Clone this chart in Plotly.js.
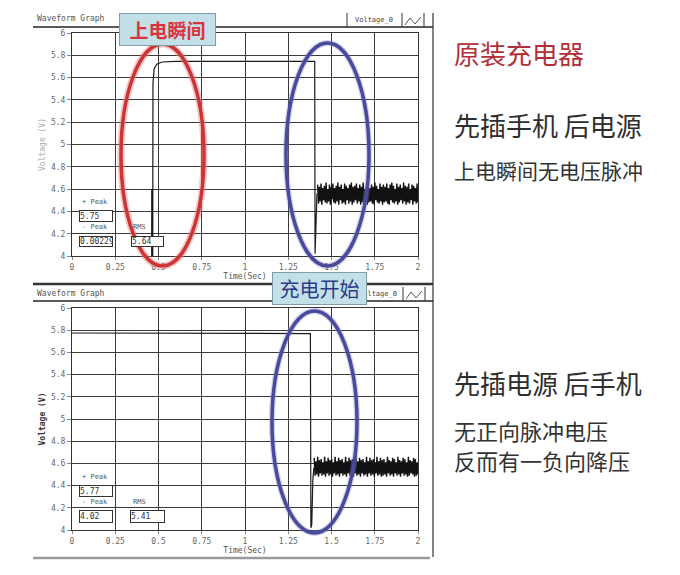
<!DOCTYPE html>
<html>
<head>
<meta charset="utf-8">
<script src="https://cdn.plot.ly/plotly-3.0.1.min.js"></script>
<style>html,body{margin:0;padding:0;background:#fff;}#chart{width:680px;height:575px;}</style>
</head>
<body>
<div id="chart"></div>
<script>
// ---- data ----
const xTickLabels = ["0","0.25","0.5","0.75","1","1.25","1.5","1.75","2"];
const yTickLabels = ["4","4.2","4.4","4.6","4.8","5","5.2","5.4","5.6","5.8","6"];

// Top graph: plug phone first, then power (time in s, voltage in V)
const topTime    = [0, 0.458, 0.461, 0.464, 0.468, 0.475, 0.49, 0.52, 0.6, 1.403, 1.405, 1.41, 1.416];
const topVoltage = [0, 0,     4.6,   1.0,   5.55,  5.68,  5.72, 5.74, 5.745, 5.745, 4.02, 4.3, 4.56];
const topNoiseStart = 1.42;
const topNoiseStep  = 0.00487;
const topNoise = [
 4.64,4.47,4.62,4.49,4.65,4.46,4.61,4.50,4.63,4.48,
 4.66,4.47,4.60,4.49,4.64,4.46,4.62,4.51,4.65,4.48,
 4.61,4.47,4.63,4.49,4.66,4.46,4.62,4.50,4.64,4.47,
 4.60,4.48,4.65,4.46,4.63,4.50,4.61,4.47,4.64,4.49,
 4.66,4.46,4.62,4.48,4.63,4.50,4.65,4.47,4.61,4.49,
 4.64,4.46,4.62,4.48,4.66,4.47,4.60,4.50,4.63,4.46,
 4.65,4.48,4.61,4.49,4.64,4.47,4.62,4.46,4.66,4.50,
 4.63,4.48,4.60,4.47,4.65,4.49,4.62,4.46,4.64,4.48,
 4.62,4.49,4.65,4.47,4.61,4.46,4.64,4.50,4.66,4.48,
 4.63,4.47,4.60,4.49,4.65,4.46,4.62,4.48,4.64,4.50,
 4.61,4.47,4.66,4.49,4.63,4.46,4.62,4.48,4.65,4.47,
 4.60,4.50,4.64,4.46,4.63,4.49,4.61,4.47,4.65,4.48];
const topStats = {plusPeak:"5.75", minusPeak:"0.00229", rms:"5.64"};

// Bottom graph: plug power first, then phone
const botTime    = [0, 0.55, 1.378, 1.381, 1.386, 1.392, 1.398];
const botVoltage = [5.775, 5.775, 5.77, 4.02, 4.05, 4.45, 4.56];
const botNoiseStart = 1.40;
const botNoiseStep  = 0.00504;
const botNoise = [
 4.65,4.49,4.62,4.50,4.66,4.48,4.63,4.51,4.64,4.49,
 4.61,4.50,4.66,4.48,4.62,4.51,4.65,4.49,4.63,4.50,
 4.64,4.48,4.61,4.51,4.66,4.49,4.62,4.50,4.65,4.48,
 4.63,4.51,4.64,4.49,4.61,4.50,4.66,4.48,4.62,4.51,
 4.65,4.49,4.63,4.50,4.64,4.48,4.61,4.51,4.66,4.49,
 4.62,4.50,4.65,4.48,4.63,4.51,4.64,4.49,4.61,4.50,
 4.66,4.48,4.62,4.51,4.65,4.49,4.63,4.50,4.64,4.48,
 4.61,4.51,4.66,4.49,4.62,4.50,4.65,4.48,4.63,4.49,
 4.64,4.50,4.61,4.48,4.66,4.51,4.63,4.49,4.62,4.50,
 4.65,4.48,4.64,4.51,4.61,4.49,4.66,4.50,4.63,4.48,
 4.62,4.51,4.65,4.49,4.64,4.50,4.61,4.48,4.66,4.49,
 4.63,4.51,4.62,4.50,4.65,4.48,4.64,4.49,4.61,4.50];
const botStats = {plusPeak:"5.77", minusPeak:"4.02", rms:"5.41"};

// ---- layout helpers (pixel -> paper) ----
const W = 680, H = 575;
const X = v => v / W, Y = v => 1 - v / H;
const CJK = '"Noto Sans CJK SC", "Noto Sans", sans-serif';
const MONO = '"DejaVu Sans Mono", monospace';

function ln(x0, y0, x1, y1, color, width) {
  return {type:'line', xref:'paper', yref:'paper', x0:X(x0), y0:Y(y0), x1:X(x1), y1:Y(y1),
          line:{color:color, width:width}, layer:'above'};
}
function ell(x0, y0, x1, y1, color, width) {
  return {type:'circle', xref:'paper', yref:'paper', x0:X(x0), y0:Y(y0), x1:X(x1), y1:Y(y1),
          line:{color:color, width:width}, layer:'above'};
}
function txt(x, y, text, size, color, xanchor, family, extra) {
  return Object.assign({xref:'paper', yref:'paper', x:X(x), y:Y(y), text:text, showarrow:false,
          xanchor:xanchor || 'left', yanchor:'middle',
          font:{family:family || MONO, size:size, color:color}}, extra || {});
}
function box(cx, cy, w, h, text) {
  return {xref:'paper', yref:'paper', x:X(cx), y:Y(cy), text:text, showarrow:false,
          xanchor:'center', yanchor:'middle', width:w - 2, height:h - 2, align:'left',
          bgcolor:'#ffffff', bordercolor:'#333', borderwidth:1, borderpad:0,
          font:{family:MONO, size:8, color:'#333'}};
}
function iconPath(x, y) {
  return {type:'path', xref:'paper', yref:'paper', layer:'above',
          path:`M ${X(x)} ${Y(y+5)} L ${X(x+5)} ${Y(y-2)} L ${X(x+10)} ${Y(y+4)} L ${X(x+16)} ${Y(y-3)}`,
          line:{color:'#555', width:1}};
}

const axisFont = {family:MONO, size:8, color:'#666'};
const xBase = {range:[0,2], tickmode:'array', tickvals:xTickLabels.map(Number), ticktext:xTickLabels,
  showgrid:true, gridcolor:'#3a3a3a', gridwidth:1, showline:true, mirror:true, linecolor:'#333', linewidth:1,
  zeroline:false, ticks:'outside', ticklen:3, tickcolor:'#888', tickfont:axisFont, fixedrange:true,
  domain:[X(72), X(418)]};
const yBase = {range:[4,6], tickmode:'array', tickvals:yTickLabels.map(Number), ticktext:yTickLabels,
  showgrid:true, gridcolor:'#3a3a3a', gridwidth:1, showline:true, mirror:true, linecolor:'#333', linewidth:1,
  zeroline:false, ticks:'outside', ticklen:4, tickcolor:'#888', tickfont:axisFont, fixedrange:true};

const traces = [
  {x:topTime, y:topVoltage, xaxis:'x', yaxis:'y', mode:'lines', line:{color:'#1a1a1a', width:1.2}, hoverinfo:'skip'},
  {y:topNoise, x0:topNoiseStart, dx:topNoiseStep, xaxis:'x', yaxis:'y', mode:'lines', line:{color:'#111', width:1.4}, hoverinfo:'skip'},
  {x:botTime, y:botVoltage, xaxis:'x2', yaxis:'y2', mode:'lines', line:{color:'#1a1a1a', width:1.2}, hoverinfo:'skip'},
  {y:botNoise, x0:botNoiseStart, dx:botNoiseStep, xaxis:'x2', yaxis:'y2', mode:'lines', line:{color:'#111', width:1.4}, hoverinfo:'skip'}
];

const shapes = [
  // top window frame
  ln(33, 27, 433, 27, '#222', 1.5),
  ln(347, 13, 347, 27, '#333', 1),
  ln(402, 13, 402, 27, '#333', 1),
  ln(424, 13, 424, 27, '#333', 1),
  ln(433, 13, 433, 557, '#333', 1.2),
  iconPath(405, 20),
  // separator between windows
  ln(33, 284, 433, 284, '#333', 2.5),
  ln(33, 301, 433, 301, '#222', 1.5),
  ln(360, 287, 360, 301, '#333', 1),
  ln(403, 287, 403, 301, '#333', 1),
  ln(425, 287, 425, 301, '#333', 1),
  iconPath(406, 294),
  // bottom border
  ln(33, 558, 430, 558, '#9a9a9a', 2.5),
  // highlight ellipses
  ell(121, 44, 204, 266, 'rgba(235,130,130,0.45)', 7),
  ell(121, 44, 204, 266, '#cc3535', 3.5),
  ell(286, 43, 369, 266, 'rgba(130,130,200,0.35)', 6),
  ell(286, 43, 369, 266, '#4a4a9c', 3.5),
  ell(272, 311, 357, 533, 'rgba(130,130,200,0.35)', 6),
  ell(272, 311, 357, 533, '#4a4a9c', 3.5)
];

const annotations = [
  // window headers
  txt(35, 19, 'Waveform Graph', 8, '#555'),
  txt(374, 20, 'Voltage_0', 7, '#444', 'center'),
  txt(35, 293, 'Waveform Graph', 8, '#555'),
  txt(399, 294, 'Voltage_0', 7, '#444', 'right'),
  // top stats
  txt(80, 202, '+ Peak', 7, '#555'),
  box(96, 216, 34, 12, topStats.plusPeak),
  txt(80, 227, '- Peak', 7, '#555'),
  box(96, 241, 34, 11, topStats.minusPeak),
  txt(131, 227, 'RMS', 7, '#555'),
  box(147.5, 241.5, 33, 11, topStats.rms),
  // bottom stats
  txt(80, 477, '+ Peak', 7, '#555'),
  box(96, 491, 34, 12, botStats.plusPeak),
  txt(80, 502, '- Peak', 7, '#555'),
  box(96, 516.5, 34, 13, botStats.minusPeak),
  txt(131, 502, 'RMS', 7, '#555'),
  box(147.5, 516.5, 35, 13, botStats.rms),
  // callout labels
  {xref:'paper', yref:'paper', x:X(167.5), y:Y(29.5), text:'<b>上电瞬间</b>', showarrow:false,
   xanchor:'center', yanchor:'middle', width:95, height:31, bgcolor:'#c3dfe8', bordercolor:'#7f9ea8',
   borderwidth:1, borderpad:0, font:{family:CJK, size:19, color:'#d8363e'}},
  {xref:'paper', yref:'paper', x:X(319.5), y:Y(288.5), text:'充电开始', showarrow:false,
   xanchor:'center', yanchor:'middle', width:93, height:31, bgcolor:'#c3dfe8', bordercolor:'#7f9ea8',
   borderwidth:1, borderpad:0, font:{family:CJK, size:20, color:'#2c3c8a'}},
  // right-hand notes
  txt(452, 53, '原装充电器', 26, '#b3303a', 'left', CJK),
  txt(452, 125, '先插手机 后电源', 26, '#2e2e2e', 'left', CJK),
  txt(452, 170, '上电瞬间无电压脉冲', 21, '#333', 'left', CJK),
  txt(452, 382, '先插电源 后手机', 26, '#2e2e2e', 'left', CJK),
  txt(452, 430, '无正向脉冲电压', 22, '#333', 'left', CJK),
  txt(452, 460, '反而有一负向降压', 22, '#333', 'left', CJK)
];

const layout = {
  width:W, height:H, margin:{l:0, r:0, t:0, b:0},
  paper_bgcolor:'#ffffff', plot_bgcolor:'#ffffff', showlegend:false,
  xaxis: Object.assign({}, xBase, {anchor:'y', title:{text:'Time(Sec)', font:{family:MONO, size:8, color:'#555'}, standoff:2}}),
  yaxis: Object.assign({}, yBase, {anchor:'x', domain:[Y(256), Y(33)], title:{text:'Voltage (V)', font:{family:MONO, size:8, color:'#aaa'}, standoff:4}}),
  xaxis2: Object.assign({}, xBase, {anchor:'y2', title:{text:'Time(Sec)', font:{family:MONO, size:8, color:'#555'}, standoff:2}}),
  yaxis2: Object.assign({}, yBase, {anchor:'x2', domain:[Y(530), Y(308)], title:{text:'<b>Voltage (V)</b>', font:{family:MONO, size:8, color:'#333'}, standoff:4}}),
  shapes: shapes,
  annotations: annotations
};

Plotly.newPlot('chart', traces, layout, {displayModeBar:false, staticPlot:true});
</script>
</body>
</html>
